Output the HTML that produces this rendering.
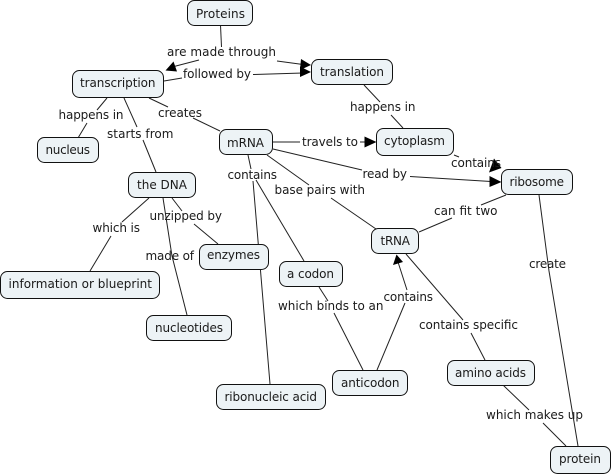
<!DOCTYPE html>
<html><head><meta charset="utf-8"><style>
html,body{margin:0;padding:0;background:#fff;width:612px;height:476px;overflow:hidden}
svg{display:block}
text{font-family:"DejaVu Sans","Liberation Sans",sans-serif;font-size:12px;fill:#1a1a1a}
.n{fill:#edf3f6;stroke:#111;stroke-width:1}
.l{fill:none;stroke:#222;stroke-width:1}
</style></head><body>
<svg width="612" height="476" viewBox="0 0 612 476" xmlns="http://www.w3.org/2000/svg">
<g class="l">
<path class="l" d="M220.5 25L221.5 47"/>
<path class="l" d="M199 60L174 66.5"/>
<path class="l" d="M277 61L303 64.5"/>
<path class="l" d="M164 81L182 78"/>
<path class="l" d="M253 74.5L303 73"/>
<path class="l" d="M107 98L97 110M87 123L78 138"/>
<path class="l" d="M149 98L168 107M193 118L220 131"/>
<path class="l" d="M124 98L137 127M143 140L156 172"/>
<path class="l" d="M273 142L300 142M360 142L367 142"/>
<path class="l" d="M273 149L362 170M410 176.5L491 181.5"/>
<path class="l" d="M267 155L309 185M331 198L376 229"/>
<path class="l" d="M248 155L251 169M253 181L270 384"/>
<path class="l" d="M256 180L304 261"/>
<path class="l" d="M149 198L122 222M111 236L90 271"/>
<path class="l" d="M163 198L172 256L187 315"/>
<path class="l" d="M172 198L182 211M194 224L218 244"/>
<path class="l" d="M364 85L380 102M391 115L403 128"/>
<path class="l" d="M454 155L459 157"/>
<path class="l" d="M506 195L481 205M452 218L419 232"/>
<path class="l" d="M539 195L549 271L578 446"/>
<path class="l" d="M406 254L463 320M471 333L485 360"/>
<path class="l" d="M503 385L529 410M543 423L566 446"/>
<path class="l" d="M377 370L405 303M407 290L398 262"/>
<path class="l" d="M319 287L328 301M334 313L363 370"/>
</g>
<g fill="#000">
<polygon points="165.5,70.5 177,71.5 173.5,61.5"/>
<polygon points="311,65 301,59 300,70"/>
<polygon points="311,72 300,66.5 300,77"/>
<polygon points="376.5,142 364.5,136.5 364.5,147.5"/>
<polygon points="501.5,182 489.5,176 489.5,187"/>
<polygon points="489,172.5 501.5,168 494,158.5"/>
<polygon points="396.5,254.5 393,265 403,262"/>
</g>
<rect class="n" x="187.5" y="0.5" width="65" height="25" rx="7"/>
<rect class="n" x="72.5" y="70.5" width="91" height="27" rx="7"/>
<rect class="n" x="311.5" y="59.5" width="81" height="25" rx="7"/>
<rect class="n" x="37.5" y="137.5" width="61" height="25" rx="7"/>
<rect class="n" x="219.5" y="129.5" width="53" height="25" rx="7"/>
<rect class="n" x="376.5" y="128.5" width="77" height="27" rx="7"/>
<rect class="n" x="128.5" y="172.5" width="67" height="25" rx="7"/>
<rect class="n" x="501.5" y="169.5" width="71" height="25" rx="7"/>
<rect class="n" x="371.5" y="228.5" width="47" height="25" rx="7"/>
<rect class="n" x="199.5" y="244.5" width="69" height="25" rx="7"/>
<rect class="n" x="279.5" y="261.5" width="63" height="25" rx="7"/>
<rect class="n" x="0.5" y="271.5" width="159" height="27" rx="7"/>
<rect class="n" x="146.5" y="315.5" width="85" height="25" rx="7"/>
<rect class="n" x="216.5" y="384.5" width="109" height="25" rx="7"/>
<rect class="n" x="332.5" y="370.5" width="75" height="25" rx="7"/>
<rect class="n" x="447.5" y="360.5" width="87" height="25" rx="7"/>
<rect class="n" x="550.5" y="446.5" width="60" height="27" rx="7"/>
<text x="196" y="18" textLength="49">Proteins</text>
<text x="80" y="87" textLength="75.5">transcription</text>
<text x="320" y="76" textLength="64">translation</text>
<text x="45.5" y="154" textLength="44.5">nucleus</text>
<text x="227" y="147" textLength="37">mRNA</text>
<text x="384" y="145" textLength="61">cytoplasm</text>
<text x="137" y="189" textLength="50">the DNA</text>
<text x="509.5" y="186" textLength="54.5">ribosome</text>
<text x="380.5" y="245" textLength="29.5">tRNA</text>
<text x="207" y="259" textLength="53">enzymes</text>
<text x="287" y="278" textLength="47">a codon</text>
<text x="8.5" y="288" textLength="143.5">information or blueprint</text>
<text x="155" y="332" textLength="68">nucleotides</text>
<text x="224.5" y="401" textLength="92.5">ribonucleic acid</text>
<text x="341" y="387" textLength="58.5">anticodon</text>
<text x="455" y="377" textLength="71">amino acids</text>
<text x="559" y="463" textLength="42">protein</text>
<text x="167" y="56" textLength="109">are made through</text>
<text x="183" y="78" textLength="68">followed by</text>
<text x="58.5" y="119" textLength="65">happens in</text>
<text x="158" y="117" textLength="44">creates</text>
<text x="107" y="138" textLength="66.5">starts from</text>
<text x="302" y="146" textLength="56">travels to</text>
<text x="227.5" y="179" textLength="49.5">contains</text>
<text x="274.5" y="194" textLength="90.5">base pairs with</text>
<text x="362.5" y="178" textLength="44.5">read by</text>
<text x="451" y="167" textLength="50">contains</text>
<text x="434" y="215" textLength="63.5">can fit two</text>
<text x="350" y="111" textLength="65.5">happens in</text>
<text x="149.5" y="220" textLength="72.5">unzipped by</text>
<text x="92.5" y="232" textLength="47.5">which is</text>
<text x="145.5" y="260" textLength="48.5">made of</text>
<text x="278" y="310" textLength="105.5">which binds to an</text>
<text x="383.5" y="301" textLength="49.5">contains</text>
<text x="419" y="329" textLength="99">contains specific</text>
<text x="529" y="268" textLength="37">create</text>
<text x="486" y="419" textLength="97">which makes up</text>
</svg>
</body></html>
